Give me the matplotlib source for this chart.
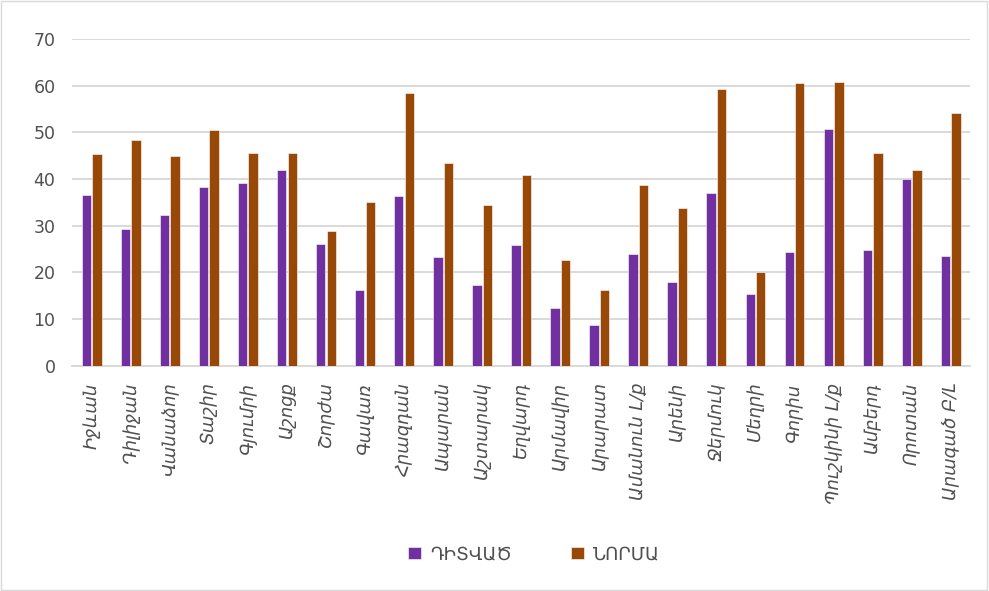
import matplotlib
matplotlib.use("Agg")
import matplotlib.pyplot as plt
import numpy as np
from matplotlib.patches import Rectangle

stations = ["Իջևան", "Դիլիջան", "Վանաձոր", "Տաշիր", "Գյումրի", "Աշոցք", "Շորժա",
            "Գավառ", "Հրազդան", "Ապարան", "Աշտարակ", "Եղվարդ", "Արմավիր", "Արարատ",
            "Ամանուն Լ/ք", "Արենի", "Ջերմուկ", "Մեղրի", "Գորիս", "Պուշկինի Լ/ք",
            "Ամբերդ", "Որոտան", "Արագած Բ/Լ"]
observed = [36.5, 29.4, 32.3, 38.4, 39.1, 41.9, 26.1, 16.3, 36.4, 23.3, 17.3, 25.9,
            12.3, 8.7, 23.9, 17.9, 37.1, 15.3, 24.3, 50.7, 24.9, 40.1, 23.5]
norm = [45.4, 48.4, 45.0, 50.5, 45.5, 45.5, 28.8, 35.0, 58.4, 43.4, 34.5, 40.9,
        22.7, 16.3, 38.8, 33.9, 59.3, 20.2, 60.6, 60.7, 45.5, 42.0, 54.2]
series_names = ["ԴԻՏՎԱԾ", "ՆՈՐՄԱ"]
yticks = [0, 10, 20, 30, 40, 50, 60, 70]

purple = "#7030A0"
brown = "#984807"
textc = "#505050"

fig = plt.figure(figsize=(9.89, 5.91), dpi=100)
ax = fig.add_axes([0.073, 0.381, 0.908, 0.553])

x = np.arange(len(stations))
w = 0.24
off = 0.135
b1 = ax.bar(x - off, observed, w, color=purple, edgecolor="white", linewidth=0.4,
            label=series_names[0], zorder=3)
b2 = ax.bar(x + off, norm, w, color=brown, edgecolor="white", linewidth=0.4,
            label=series_names[1], zorder=3)

ax.set_xlim(-0.5, len(stations) - 0.5)
ax.set_ylim(0, 70)
ax.set_yticks(yticks)
ax.set_yticklabels([str(v) for v in yticks], fontsize=12.5, color=textc)
ax.yaxis.grid(True, color="#D9D9D9", linewidth=1.4, zorder=0)
ax.set_axisbelow(True)
for s in ["top", "right", "left"]:
    ax.spines[s].set_visible(False)
ax.spines["bottom"].set_color("#D9D9D9")
ax.spines["bottom"].set_linewidth(1.4)
ax.tick_params(axis="both", length=0)
ax.tick_params(axis="y", pad=12)
ax.set_xticks(x)
ax.set_xticklabels(stations, rotation=90, fontsize=13, color=textc,
                   family="DejaVu Sans", style="italic")
ax.tick_params(axis="x", pad=12)

fig.legend(handles=[b1, b2], labels=series_names, loc="center",
           bbox_to_anchor=(0.54, 0.062), ncol=2, frameon=False, fontsize=13,
           labelcolor=textc, handlelength=0.7, handleheight=0.7,
           columnspacing=3.3, handletextpad=0.5)

fig.patches.append(Rectangle((0.001, 0.002), 0.997, 0.996, transform=fig.transFigure,
                             fill=False, edgecolor="#D9D9D9", linewidth=1))

fig.savefig("out.png", dpi=100, facecolor="white")
